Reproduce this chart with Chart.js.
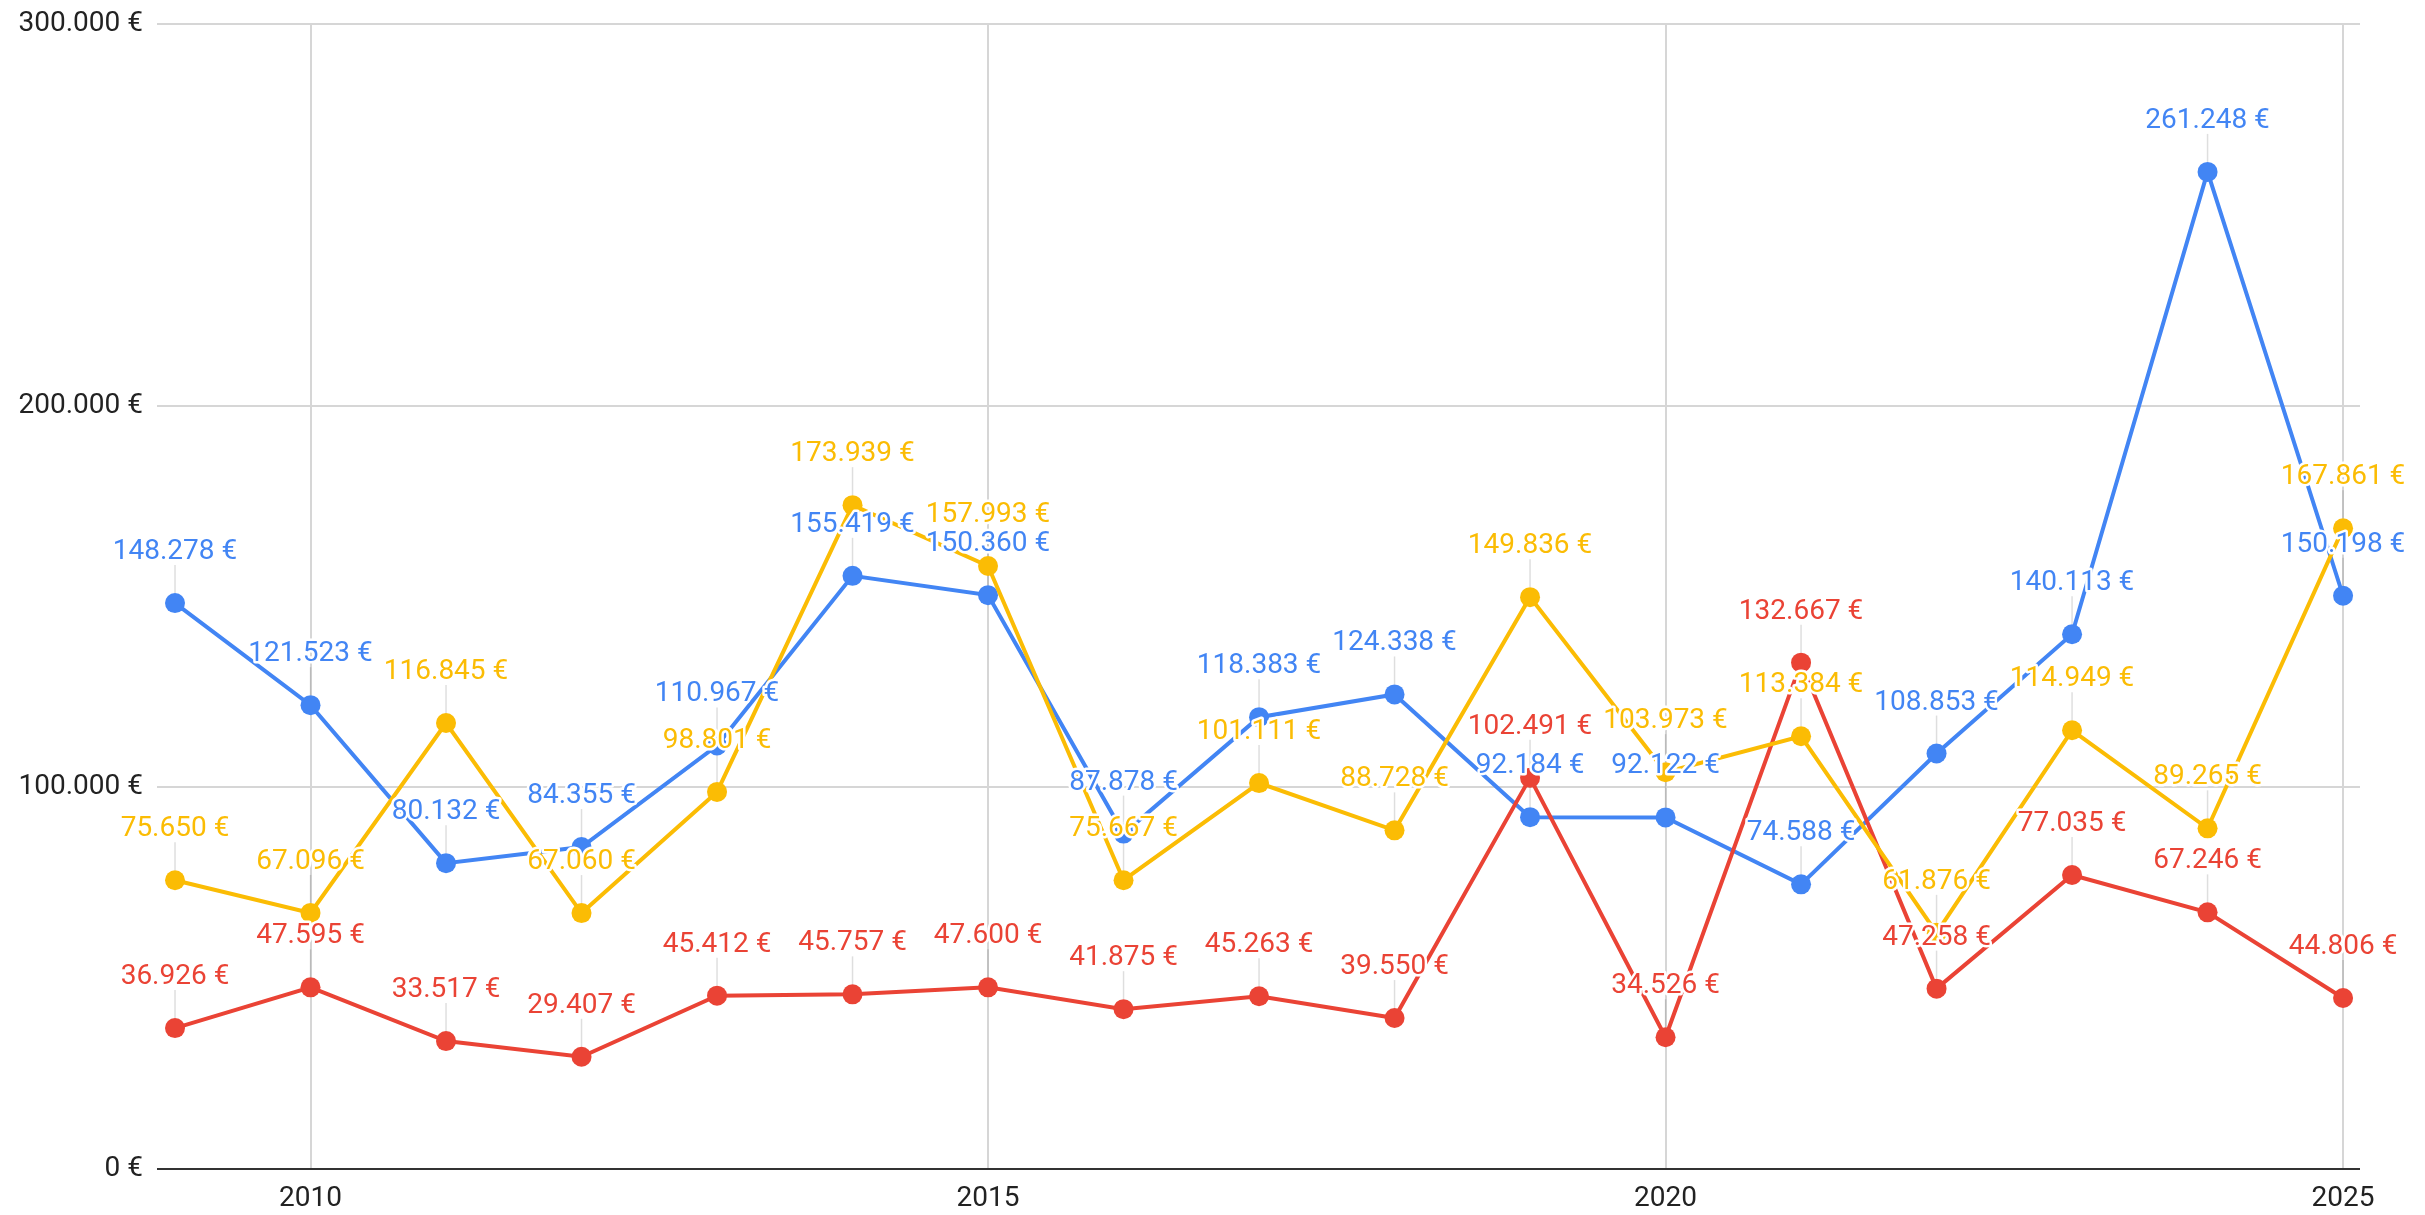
<!DOCTYPE html>
<html>
<head>
<meta charset="utf-8">
<title>Chart</title>
<script src="https://cdn.jsdelivr.net/npm/chart.js@4.4.1/dist/chart.umd.min.js"></script>
<style>
  html, body { margin: 0; padding: 0; background: #ffffff; }
  canvas { display: block; }
</style>
</head>
<body>
<canvas id="chart" width="2425" height="1215"></canvas>
<script>
var years = [2009, 2010, 2011, 2012, 2013, 2014, 2015, 2016, 2017, 2018, 2019, 2020, 2021, 2022, 2023, 2024, 2025];
var blueValues = [148278, 121523, 80132, 84355, 110967, 155419, 150360, 87878, 118383, 124338, 92184, 92122, 74588, 108853, 140113, 261248, 150198];
var redValues = [36926, 47595, 33517, 29407, 45412, 45757, 47600, 41875, 45263, 39550, 102491, 34526, 132667, 47258, 77035, 67246, 44806];
var yellowValues = [75650, 67096, 116845, 67060, 98801, 173939, 157993, 75667, 101111, 88728, 149836, 103973, 113384, 61876, 114949, 89265, 167861];
var xTicks = [2010, 2015, 2020, 2025];
var yTicks = [0, 100000, 200000, 300000];

(function () {
  'use strict';

  var BLUE = '#4285f4';
  var RED = '#ea4335';
  var YELLOW = '#fbbc04';

  Chart.defaults.font.family = 'Roboto';
  Chart.defaults.font.size = 28;
  Chart.defaults.color = '#222222';

  function euro(v) {
    return String(Math.round(v)).replace(/\B(?=(\d{3})+(?!\d))/g, '.') + ' €';
  }

  function toPoints(values) {
    return years.map(function (year, i) {
      return { x: year, y: values[i] };
    });
  }

  function makeSeries(values, color, order) {
    return {
      data: toPoints(values),
      borderColor: color,
      backgroundColor: color,
      borderWidth: 4,
      pointRadius: 10,
      pointHoverRadius: 10,
      pointBorderWidth: 0,
      tension: 0,
      order: order
    };
  }

  // little grey stems under each value, then the values themselves on top
  var valueLabels = {
    id: 'valueLabels',
    beforeDatasetsDraw: function (chart) {
      var ctx = chart.ctx;
      ctx.save();
      ctx.strokeStyle = 'rgba(0,0,0,0.13)';
      ctx.lineWidth = 1.5;
      chart.data.datasets.forEach(function (ds, i) {
        chart.getDatasetMeta(i).data.forEach(function (pt) {
          var p = pt.getProps(['x', 'y'], true);
          ctx.beginPath();
          ctx.moveTo(p.x, p.y - 38);
          ctx.lineTo(p.x, p.y - 10);
          ctx.stroke();
        });
      });
      ctx.restore();
    },
    afterDatasetsDraw: function (chart) {
      var ctx = chart.ctx;
      ctx.save();
      ctx.font = '28px Roboto';
      ctx.textAlign = 'center';
      ctx.textBaseline = 'alphabetic';
      ctx.lineJoin = 'round';
      chart.data.datasets.forEach(function (ds, i) {
        chart.getDatasetMeta(i).data.forEach(function (pt, j) {
          var p = pt.getProps(['x', 'y'], true);
          var txt = euro(ds.data[j].y);
          ctx.lineWidth = 5;
          ctx.strokeStyle = '#ffffff';
          ctx.strokeText(txt, p.x, p.y - 44);
          ctx.fillStyle = ds.borderColor;
          ctx.fillText(txt, p.x, p.y - 44);
        });
      });
      ctx.restore();
    }
  };

  new Chart(document.getElementById('chart'), {
    type: 'line',
    data: {
      datasets: [
        makeSeries(blueValues, BLUE, 3),
        makeSeries(redValues, RED, 2),
        makeSeries(yellowValues, YELLOW, 1)
      ]
    },
    options: {
      responsive: false,
      devicePixelRatio: 1,
      animation: false,
      layout: { padding: { top: 24, right: 65, left: 0, bottom: 0 } },
      plugins: {
        legend: { display: false },
        tooltip: { enabled: false }
      },
      scales: {
        x: {
          type: 'linear',
          min: 2008.867,
          max: 2025.125,
          afterBuildTicks: function (scale) {
            scale.ticks = xTicks.map(function (v) { return { value: v }; });
          },
          afterFit: function (scale) {
            scale.height = 46;
            scale.paddingLeft = 0;
            scale.paddingRight = 0;
          },
          ticks: {
            padding: 13,
            color: '#222222',
            callback: function (v) { return String(v); }
          },
          grid: { color: '#d6d6d6', lineWidth: 2, drawTicks: false },
          border: { display: false }
        },
        y: {
          min: 0,
          max: 300000,
          afterBuildTicks: function (scale) {
            scale.ticks = yTicks.map(function (v) { return { value: v }; });
          },
          afterFit: function (scale) {
            scale.width = 157;
            scale.paddingTop = 0;
            scale.paddingBottom = 0;
          },
          ticks: {
            padding: 14,
            color: '#222222',
            callback: function (v) { return euro(v); }
          },
          grid: {
            drawTicks: false,
            color: function (c) { return c.tick && c.tick.value === 0 ? '#333333' : '#d6d6d6'; },
            lineWidth: 2
          },
          border: { display: false }
        }
      }
    },
    plugins: [valueLabels]
  });
}());
</script>
</body>
</html>
